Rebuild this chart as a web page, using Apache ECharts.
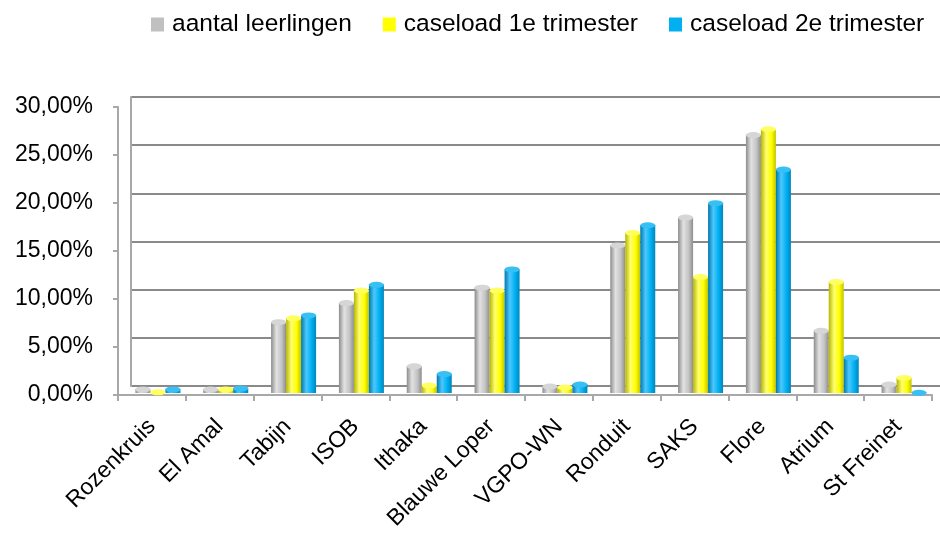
<!DOCTYPE html>
<html>
<head>
<meta charset="utf-8">
<script src="https://cdn.jsdelivr.net/npm/echarts@6/dist/echarts.min.js"></script>
<style>
html,body{margin:0;padding:0;background:#fff;}
#main{width:940px;height:535px;}
</style>
</head>
<body>
<div id="main"></div>
<script>
var categories = ['Rozenkruis', 'El Amal', 'Tabijn', 'ISOB', 'Ithaka', 'Blauwe Loper', 'VGPO-WN', 'Ronduit', 'SAKS', 'Flore', 'Atrium', 'St Freinet'];
var leerlingen = [0.4, 0.4, 7.4, 9.4, 2.8, 11.0, 0.7, 15.4, 18.3, 26.9, 6.5, 0.9];
var trimester1 = [0.1, 0.4, 7.8, 10.7, 0.8, 10.7, 0.6, 16.7, 12.1, 27.5, 11.6, 1.6];
var trimester2 = [0.4, 0.5, 8.1, 11.3, 2.0, 12.9, 0.9, 17.5, 19.8, 23.3, 3.7, 0.05];
var seriesNames = ['aantal leerlingen', 'caseload 1e trimester', 'caseload 2e trimester'];
var yTicks = [0, 5, 10, 15, 20, 25, 30];

var FONT = 'Liberation Sans';

function cyl(c1, c2, c3, c4) {
    // horizontal gradient to fake the cylinder shading
    return new echarts.graphic.LinearGradient(0, 0, 1, 0, [
        {offset: 0, color: c1},
        {offset: 0.35, color: c2},
        {offset: 0.7, color: c3},
        {offset: 1, color: c4}
    ]);
}

var flat = ['#c0c0c0', '#ffff00', '#00b0f0'];
var fills = [
    cyl('#8c8c8c', '#e2e2e2', '#c4c4c4', '#8e8e8e'),
    cyl('#b5b500', '#ffff70', '#ffff00', '#c4c400'),
    cyl('#0078a8', '#4cc8ff', '#00b0f0', '#0086bc')
];
var caps = ['#d6d6d6', '#ffff60', '#38c0f4'];
var capBorder = ['#9a9a9a', '#c8c800', '#0090c8'];
var values = [leerlingen, trimester1, trimester2];

var series = [];
for (var i = 0; i < 3; i++) {
    series.push({
        name: seriesNames[i],
        type: 'bar',
        xAxisIndex: 2,
        yAxisIndex: 2,
        barWidth: 15,
        barGap: '0%',
        itemStyle: {color: fills[i]},
        data: values[i],
        z: 3
    });
}
for (var j = 0; j < 3; j++) {
    series.push({
        name: seriesNames[j] + ' top',
        type: 'pictorialBar',
        xAxisIndex: 2,
        yAxisIndex: 2,
        symbol: 'circle',
        symbolSize: [15, 6],
        symbolPosition: 'end',
        symbolOffset: [(j - 1) * 15, '-50%'],
        itemStyle: {color: caps[j], borderColor: capBorder[j], borderWidth: 0.8},
        data: values[j],
        z: 4
    });
}

var myChart = echarts.init(document.getElementById('main'));
var option = {
    animation: false,
    backgroundColor: '#fff',
    legend: {
        top: 7,
        left: 146,
        itemWidth: 13,
        itemHeight: 14,
        itemGap: 31,
        icon: 'rect',
        textStyle: {fontFamily: FONT, fontSize: 24.5, color: '#000', padding: [0, 0, 0, 3]},
        data: seriesNames.map(function (n, k) {
            return {name: n, itemStyle: {color: flat[k]}};
        })
    },
    grid: [
        // front plane: axis labels and axis lines
        {left: 118, right: 8, top: 107, bottom: 140},
        // back wall with gridlines
        {left: 131, right: 0, top: 97, bottom: 149},
        // bars, halfway in depth
        {left: 124, right: 2, top: 105, bottom: 142}
    ],
    xAxis: [
        {
            gridIndex: 0,
            type: 'category',
            data: categories,
            axisLine: {show: true, lineStyle: {color: '#a8a8a8', width: 2}},
            axisTick: {show: true, length: 6, lineStyle: {color: '#a8a8a8', width: 2}},
            axisLabel: {
                rotate: 45,
                interval: 0,
                margin: 28,
                fontFamily: FONT,
                fontSize: 23,
                color: '#000'
            }
        },
        {gridIndex: 1, type: 'category', data: categories, show: false},
        {gridIndex: 2, type: 'category', data: categories, show: false}
    ],
    yAxis: [
        {
            gridIndex: 0,
            type: 'value',
            min: yTicks[0],
            max: yTicks[yTicks.length - 1],
            interval: 5,
            splitLine: {show: false},
            axisLine: {show: true, lineStyle: {color: '#a8a8a8', width: 2}},
            axisTick: {show: true, length: 5, lineStyle: {color: '#a8a8a8', width: 2}},
            axisLabel: {
                margin: 25,
                fontFamily: FONT,
                fontSize: 23,
                color: '#000',
                formatter: function (v) {
                    return v.toFixed(2).replace('.', ',') + '%';
                }
            }
        },
        {
            gridIndex: 1,
            type: 'value',
            min: 0,
            max: 30,
            interval: 5,
            axisLabel: {show: false},
            axisTick: {show: false},
            axisLine: {show: true, lineStyle: {color: '#a8a8a8', width: 2}},
            splitLine: {show: true, lineStyle: {color: '#8a8a8a', width: 2}}
        },
        {gridIndex: 2, type: 'value', min: 0, max: 30, show: false, splitLine: {show: false}}
    ],
    series: series
};
myChart.setOption(option, true);
</script>
</body>
</html>
